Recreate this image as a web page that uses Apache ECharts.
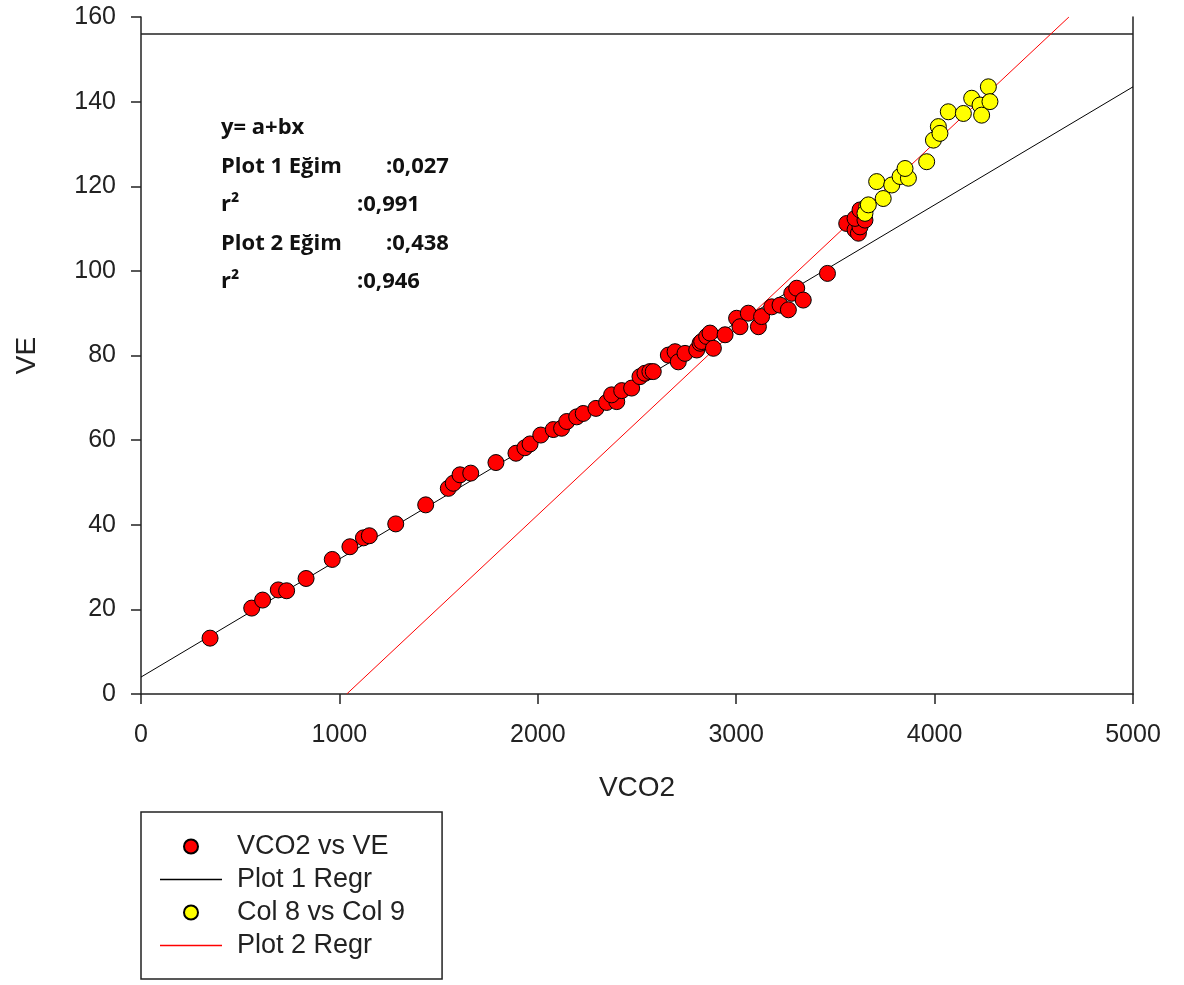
<!DOCTYPE html>
<html>
<head>
<meta charset="utf-8">
<script src="https://cdn.jsdelivr.net/npm/echarts@6/dist/echarts.min.js"></script>
<style>
html,body{margin:0;padding:0;background:#fff;}
#chart{width:1184px;height:985px;}
</style>
</head>
<body>
<div id="chart"></div>
<script>
// VCO2 vs VE (red points)
const vco2VsVe = [
  [348,13.2],[558,20.3],[613,22.2],[692,24.6],[734,24.4],[832,27.3],[964,31.8],[1053,34.8],
  [1121,36.9],[1151,37.4],[1284,40.2],[1435,44.7],[1549,48.6],[1574,49.8],[1608,51.8],[1662,52.2],
  [1789,54.7],[1890,56.9],[1935,58.2],[1961,59.1],[2015,61.2],[2078,62.5],[2120,62.8],[2146,64.4],
  [2196,65.5],[2229,66.3],[2293,67.5],[2347,68.9],[2398,69.1],[2372,70.7],[2423,71.7],[2473,72.3],
  [2515,75.0],[2540,75.8],[2565,76.2],[2582,76.2],[2658,80.1],[2692,80.9],[2708,78.5],[2742,80.5],
  [2801,81.3],[2818,82.9],[2826,83.3],[2851,84.5],[2868,85.3],[2885,81.7],[2944,84.9],[3002,88.8],
  [3019,86.8],[3061,90.0],[3112,86.8],[3128,89.2],[3179,91.5],[3221,91.9],[3263,90.8],[3280,94.7],
  [3305,95.9],[3338,93.1],[3460,99.4],[3557,111.2],[3599,109.7],[3616,108.9],[3624,110.4],
  [3599,112.4],[3649,112.0],[3624,114.4]
];
// Col 8 vs Col 9 (yellow points)
const col8VsCol9 = [
  [3658,115.2],[3649,113.6],[3666,115.6],[3741,117.1],[3708,121.1],[3784,120.3],[3826,122.3],
  [3868,121.9],[3851,124.2],[3960,125.8],[3994,130.9],[4019,134.1],[4027,132.5],[4069,137.6],
  [4145,137.2],[4187,140.8],[4229,139.2],[4237,136.8],[4271,143.5],[4279,140.0]
];
// Regression line endpoints
const plot1Regr = [[0,4.0],[5000,143.5]];
const plot2Regr = [[1037,0],[4677,160]];
// Upper frame line level
const frameTopLine = [[0,156],[5000,156]];

const xTicks = {min:0, max:5000, interval:1000};
const yTicks = {min:0, max:160, interval:20};

const annotLabels = ['y= a+bx', 'Plot 1 Eğim', 'r²', 'Plot 2 Eğim', 'r²'];
const annotValues = ['', ':0,027', ':0,991', ':0,438', ':0,946'];

const chart = echarts.init(document.getElementById('chart'));
const axisFont = {fontFamily:'Liberation Sans, Arial, sans-serif', fontSize:25, color:'#222'};
const annotFont = 'bold 22px "Open Sans", Lato, sans-serif';

const graphics = [];
annotLabels.forEach((lab, i) => {
  const y = 117 + i * 38.5;
  graphics.push({type:'text', left:221, top:y, style:{text:lab, font:annotFont, fill:'#111'}});
  const v = annotValues[i];
  if (v) {
    const isEgim = lab.indexOf('Eğim') >= 0;
    graphics.push({type:'text', left: isEgim ? 386 : 357, top:y, style:{text:v, font:annotFont, fill:'#111'}});
  }
});

const lineIcon = 'path://M0,0H62V1.4H0Z';

chart.setOption({
  backgroundColor:'#fff',
  animation:false,
  grid:{left:141, right:51, top:17, bottom:291},
  xAxis:{
    type:'value', min:xTicks.min, max:xTicks.max, interval:xTicks.interval,
    name:'VCO2', nameLocation:'middle', nameGap:80,
    nameTextStyle:{fontFamily:'Liberation Sans, Arial, sans-serif', fontSize:28, color:'#222'},
    axisLine:{show:true, onZero:false, lineStyle:{color:'#222', width:1.5}},
    axisTick:{show:true, inside:false, length:10, lineStyle:{color:'#222', width:1.5}},
    axisLabel:Object.assign({margin:29, formatter:(v)=>String(v)}, axisFont),
    splitLine:{show:false}
  },
  yAxis:[{
    type:'value', min:yTicks.min, max:yTicks.max, interval:yTicks.interval,
    name:'VE', nameLocation:'middle', nameGap:100, nameRotate:90,
    nameTextStyle:{fontFamily:'Liberation Sans, Arial, sans-serif', fontSize:28, color:'#222'},
    axisLine:{show:true, onZero:false, lineStyle:{color:'#222', width:1.5}},
    axisTick:{show:true, inside:false, length:10, lineStyle:{color:'#222', width:1.5}},
    axisLabel:Object.assign({margin:25, formatter:(v)=>String(v)}, axisFont),
    splitLine:{show:false}
  },{
    type:'value', min:yTicks.min, max:yTicks.max, position:'right',
    axisLine:{show:true, onZero:false, lineStyle:{color:'#222', width:1.5}},
    axisTick:{show:false}, axisLabel:{show:false}, splitLine:{show:false}
  }],
  legend:{
    orient:'vertical', left:141, top:812, height:200,
    padding:[21,37,20,19], itemGap:6, itemWidth:62, itemHeight:14,
    borderColor:'#222', borderWidth:1.5, borderRadius:0,
    textStyle:{fontFamily:'Liberation Sans, Arial, sans-serif', fontSize:27, lineHeight:27, color:'#222', padding:[0,0,0,10]},
    data:[
      {name:'VCO2 vs VE', icon:'circle'},
      {name:'Plot 1 Regr', icon:lineIcon},
      {name:'Col 8 vs Col 9', icon:'circle'},
      {name:'Plot 2 Regr', icon:lineIcon}
    ]
  },
  graphic:graphics,
  series:[
    {name:'frame', type:'line', data:frameTopLine, symbol:'none', silent:true,
     lineStyle:{color:'#222', width:1.5}, z:1},
    {name:'Plot 1 Regr', type:'line', data:plot1Regr, symbol:'none',
     lineStyle:{color:'#000', width:1}, itemStyle:{color:'#000'}, z:2},
    {name:'Plot 2 Regr', type:'line', data:plot2Regr, symbol:'none',
     lineStyle:{color:'#ff0000', width:1}, itemStyle:{color:'#ff0000'}, z:2},
    {name:'VCO2 vs VE', type:'scatter', data:vco2VsVe, symbol:'circle', symbolSize:16,
     itemStyle:{color:'#ff0000', borderColor:'#000', borderWidth:1, opacity:1}, z:3},
    {name:'Col 8 vs Col 9', type:'scatter', data:col8VsCol9, symbol:'circle', symbolSize:16,
     itemStyle:{color:'#ffff00', borderColor:'#000', borderWidth:1, opacity:1}, z:3}
  ]
});
</script>
</body>
</html>
